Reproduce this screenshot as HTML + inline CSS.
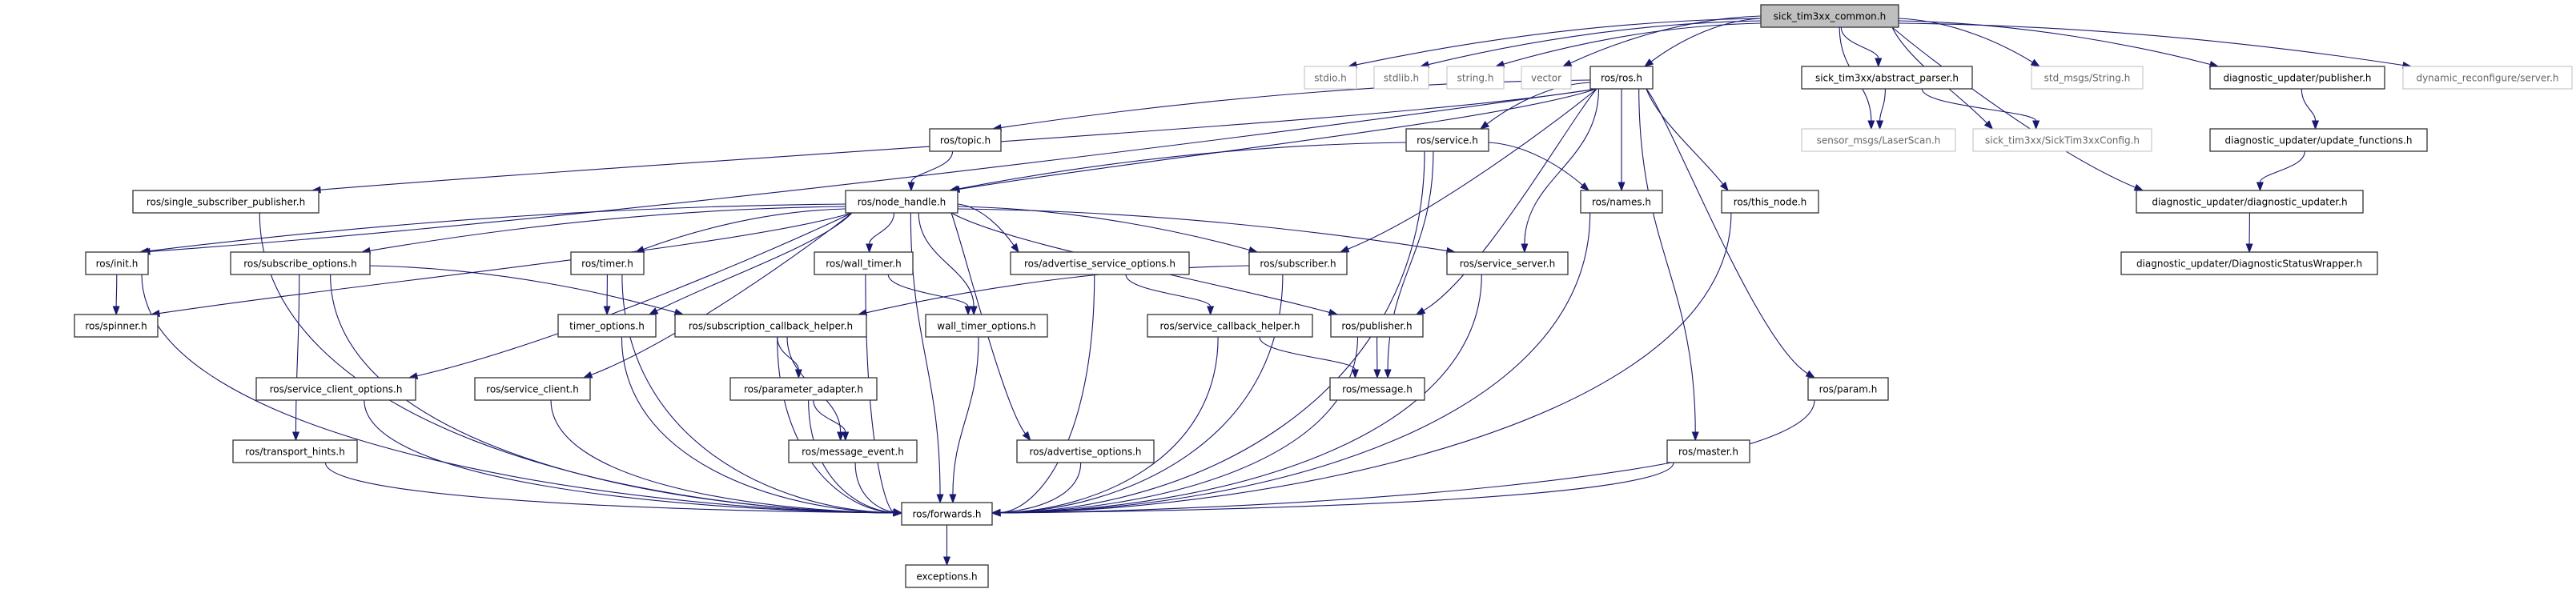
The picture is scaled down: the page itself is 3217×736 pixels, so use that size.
<!DOCTYPE html>
<html><head><meta charset="utf-8"><style>
html,body{margin:0;padding:0;background:#fff;}
svg{display:block;}
text{font-family:"DejaVu Sans","Liberation Sans",sans-serif;font-size:12px;}
</style></head><body>
<svg id="g" width="3217" height="736" xmlns="http://www.w3.org/2000/svg">
<g id="edges" fill="none" stroke="#191970" stroke-width="1.1"></g>
<g id="heads" fill="#191970" stroke="#191970"></g>
<g id="nodes">
<rect x="2199" y="6" width="172" height="28" fill="#bfbfbf" stroke="#333" stroke-width="1.3"/><text x="2285" y="24.5" text-anchor="middle">sick_tim3xx_common.h</text>
<rect x="1629" y="83" width="65" height="28" fill="#fff" stroke="#bfbfbf"/><text x="1661.5" y="101.5" text-anchor="middle" fill="#666">stdio.h</text>
<rect x="1716" y="83" width="68" height="28" fill="#fff" stroke="#bfbfbf"/><text x="1750" y="101.5" text-anchor="middle" fill="#666">stdlib.h</text>
<rect x="1807" y="83" width="71" height="28" fill="#fff" stroke="#bfbfbf"/><text x="1842.5" y="101.5" text-anchor="middle" fill="#666">string.h</text>
<rect x="1900" y="83" width="62" height="28" fill="#fff" stroke="#bfbfbf"/><text x="1931" y="101.5" text-anchor="middle" fill="#666">vector</text>
<rect x="1986" y="83" width="78" height="28" fill="#fff" stroke="#333" stroke-width="1.3"/><text x="2025" y="101.5" text-anchor="middle">ros/ros.h</text>
<rect x="2250" y="83" width="213" height="28" fill="#fff" stroke="#333" stroke-width="1.3"/><text x="2356.5" y="101.5" text-anchor="middle">sick_tim3xx/abstract_parser.h</text>
<rect x="2537" y="83" width="139" height="28" fill="#fff" stroke="#bfbfbf"/><text x="2606.5" y="101.5" text-anchor="middle" fill="#666">std_msgs/String.h</text>
<rect x="2760" y="83" width="218" height="28" fill="#fff" stroke="#333" stroke-width="1.3"/><text x="2869" y="101.5" text-anchor="middle">diagnostic_updater/publisher.h</text>
<rect x="3001" y="83" width="211" height="28" fill="#fff" stroke="#bfbfbf"/><text x="3106.5" y="101.5" text-anchor="middle" fill="#666">dynamic_reconfigure/server.h</text>
<rect x="1161" y="161" width="89" height="28" fill="#fff" stroke="#333" stroke-width="1.3"/><text x="1205.5" y="179.5" text-anchor="middle">ros/topic.h</text>
<rect x="1756" y="161" width="103" height="28" fill="#fff" stroke="#333" stroke-width="1.3"/><text x="1807.5" y="179.5" text-anchor="middle">ros/service.h</text>
<rect x="2250" y="161" width="192" height="28" fill="#fff" stroke="#bfbfbf"/><text x="2346" y="179.5" text-anchor="middle" fill="#666">sensor_msgs/LaserScan.h</text>
<rect x="2464" y="161" width="223" height="28" fill="#fff" stroke="#bfbfbf"/><text x="2575.5" y="179.5" text-anchor="middle" fill="#666">sick_tim3xx/SickTim3xxConfig.h</text>
<rect x="2760" y="161" width="271" height="28" fill="#fff" stroke="#333" stroke-width="1.3"/><text x="2895.5" y="179.5" text-anchor="middle">diagnostic_updater/update_functions.h</text>
<rect x="166" y="238" width="232" height="28" fill="#fff" stroke="#333" stroke-width="1.3"/><text x="282" y="256.5" text-anchor="middle">ros/single_subscriber_publisher.h</text>
<rect x="1056" y="238" width="140" height="28" fill="#fff" stroke="#333" stroke-width="1.3"/><text x="1126" y="256.5" text-anchor="middle">ros/node_handle.h</text>
<rect x="1974" y="238" width="102" height="28" fill="#fff" stroke="#333" stroke-width="1.3"/><text x="2025" y="256.5" text-anchor="middle">ros/names.h</text>
<rect x="2150" y="238" width="121" height="28" fill="#fff" stroke="#333" stroke-width="1.3"/><text x="2210.5" y="256.5" text-anchor="middle">ros/this_node.h</text>
<rect x="2668" y="238" width="283" height="28" fill="#fff" stroke="#333" stroke-width="1.3"/><text x="2809.5" y="256.5" text-anchor="middle">diagnostic_updater/diagnostic_updater.h</text>
<rect x="107" y="315" width="78" height="28" fill="#fff" stroke="#333" stroke-width="1.3"/><text x="146" y="333.5" text-anchor="middle">ros/init.h</text>
<rect x="288" y="315" width="174" height="28" fill="#fff" stroke="#333" stroke-width="1.3"/><text x="375" y="333.5" text-anchor="middle">ros/subscribe_options.h</text>
<rect x="713" y="315" width="91" height="28" fill="#fff" stroke="#333" stroke-width="1.3"/><text x="758.5" y="333.5" text-anchor="middle">ros/timer.h</text>
<rect x="1017" y="315" width="123" height="28" fill="#fff" stroke="#333" stroke-width="1.3"/><text x="1078.5" y="333.5" text-anchor="middle">ros/wall_timer.h</text>
<rect x="1262" y="315" width="223" height="28" fill="#fff" stroke="#333" stroke-width="1.3"/><text x="1373.5" y="333.5" text-anchor="middle">ros/advertise_service_options.h</text>
<rect x="1560" y="315" width="122" height="28" fill="#fff" stroke="#333" stroke-width="1.3"/><text x="1621" y="333.5" text-anchor="middle">ros/subscriber.h</text>
<rect x="1807" y="315" width="151" height="28" fill="#fff" stroke="#333" stroke-width="1.3"/><text x="1882.5" y="333.5" text-anchor="middle">ros/service_server.h</text>
<rect x="2649" y="315" width="320" height="28" fill="#fff" stroke="#333" stroke-width="1.3"/><text x="2809" y="333.5" text-anchor="middle">diagnostic_updater/DiagnosticStatusWrapper.h</text>
<rect x="93" y="393" width="104" height="28" fill="#fff" stroke="#333" stroke-width="1.3"/><text x="145" y="411.5" text-anchor="middle">ros/spinner.h</text>
<rect x="697" y="393" width="122" height="28" fill="#fff" stroke="#333" stroke-width="1.3"/><text x="758" y="411.5" text-anchor="middle">timer_options.h</text>
<rect x="843" y="393" width="239" height="28" fill="#fff" stroke="#333" stroke-width="1.3"/><text x="962.5" y="411.5" text-anchor="middle">ros/subscription_callback_helper.h</text>
<rect x="1156" y="393" width="152" height="28" fill="#fff" stroke="#333" stroke-width="1.3"/><text x="1232" y="411.5" text-anchor="middle">wall_timer_options.h</text>
<rect x="1433" y="393" width="206" height="28" fill="#fff" stroke="#333" stroke-width="1.3"/><text x="1536" y="411.5" text-anchor="middle">ros/service_callback_helper.h</text>
<rect x="1662" y="393" width="115" height="28" fill="#fff" stroke="#333" stroke-width="1.3"/><text x="1719.5" y="411.5" text-anchor="middle">ros/publisher.h</text>
<rect x="320" y="472" width="199" height="28" fill="#fff" stroke="#333" stroke-width="1.3"/><text x="419.5" y="490.5" text-anchor="middle">ros/service_client_options.h</text>
<rect x="593" y="472" width="144" height="28" fill="#fff" stroke="#333" stroke-width="1.3"/><text x="665" y="490.5" text-anchor="middle">ros/service_client.h</text>
<rect x="912" y="472" width="183" height="28" fill="#fff" stroke="#333" stroke-width="1.3"/><text x="1003.5" y="490.5" text-anchor="middle">ros/parameter_adapter.h</text>
<rect x="1661" y="472" width="118" height="28" fill="#fff" stroke="#333" stroke-width="1.3"/><text x="1720" y="490.5" text-anchor="middle">ros/message.h</text>
<rect x="2258" y="472" width="100" height="28" fill="#fff" stroke="#333" stroke-width="1.3"/><text x="2308" y="490.5" text-anchor="middle">ros/param.h</text>
<rect x="291" y="550" width="155" height="28" fill="#fff" stroke="#333" stroke-width="1.3"/><text x="368.5" y="568.5" text-anchor="middle">ros/transport_hints.h</text>
<rect x="985" y="550" width="160" height="28" fill="#fff" stroke="#333" stroke-width="1.3"/><text x="1065" y="568.5" text-anchor="middle">ros/message_event.h</text>
<rect x="1270" y="550" width="171" height="28" fill="#fff" stroke="#333" stroke-width="1.3"/><text x="1355.5" y="568.5" text-anchor="middle">ros/advertise_options.h</text>
<rect x="2082" y="550" width="103" height="28" fill="#fff" stroke="#333" stroke-width="1.3"/><text x="2133.5" y="568.5" text-anchor="middle">ros/master.h</text>
<rect x="1126" y="628" width="113" height="28" fill="#fff" stroke="#333" stroke-width="1.3"/><text x="1182.5" y="646.5" text-anchor="middle">ros/forwards.h</text>
<rect x="1131" y="706" width="103" height="28" fill="#fff" stroke="#333" stroke-width="1.3"/><text x="1182.5" y="724.5" text-anchor="middle">exceptions.h</text>
</g>
</svg>
<script>
var N={common:[2199,2371,6],stdio:[1629,1694,83],stdlib:[1716,1784,83],string:[1807,1878,83],vector:[1900,1962,83],ros:[1986,2064,83],abs:[2250,2463,83],stdmsg:[2537,2676,83],dpub:[2760,2978,83],dyn:[3001,3212,83],
topic:[1161,1250,161],service:[1756,1859,161],laser:[2250,2442,161],config:[2464,2687,161],upd:[2760,3031,161],
ssp:[166,398,238],nh:[1056,1196,238],names:[1974,2076,238],thisnode:[2150,2271,238],dupd:[2668,2951,238],
init:[107,185,315],subopt:[288,462,315],timer:[713,804,315],wtimer:[1017,1140,315],aso:[1262,1485,315],subscriber:[1560,1682,315],sserver:[1807,1958,315],dsw:[2649,2969,315],
spinner:[93,197,393],topt:[697,819,393],sch:[843,1082,393],wto:[1156,1308,393],servcb:[1433,1639,393],pub:[1662,1777,393],
sco:[320,519,472],sclient:[593,737,472],padapt:[912,1095,472],message:[1661,1779,472],param:[2258,2358,472],
thints:[291,446,550],mevent:[985,1145,550],aopt:[1270,1441,550],master:[2082,2185,550],fwd:[1126,1239,628],exc:[1131,1234,706]};
var E="common stdio,common stdlib,common string,common vector,common ros,common abs,common laser,common config,common stdmsg,common dpub,common dyn,common dupd,ros ssp,ros init,ros topic,ros nh,ros service,ros subscriber,ros pub,ros names,ros sserver,ros thisnode,ros master,ros param,abs laser,abs config,dpub upd,upd dupd,dupd dsw,topic nh,service nh,service names,service message,service fwd,ssp fwd,nh init,nh spinner,nh subopt,nh timer,nh topt,nh sco,nh sclient,nh wtimer,nh wto,nh aso,nh aopt,nh subscriber,nh pub,nh sserver,nh fwd,init spinner,init fwd,subopt sch,subopt thints,subopt fwd,timer topt,timer fwd,wtimer wto,wtimer fwd,aso servcb,aso fwd,subscriber sch,subscriber fwd,sserver fwd,topt fwd,sch padapt,sch mevent,sch fwd,wto fwd,servcb message,servcb fwd,pub message,pub fwd,sco fwd,sclient fwd,padapt mevent,padapt fwd,thints fwd,mevent fwd,aopt fwd,master fwd,param fwd,names fwd,thisnode fwd,fwd exc".split(",");
var ns="http://www.w3.org/2000/svg",eg=document.getElementById("edges"),hg=document.getElementById("heads");
function cl(v,a,b){return Math.max(a,Math.min(b,v));}
var sideCount={};
E.forEach(function(e){var p=e.split(" "),s=N[p[0]],t=N[p[1]];
var scx=(s[0]+s[1])/2,tcx=(t[0]+t[1])/2,sw=(s[1]-s[0])/2,tw=(t[1]-t[0])/2;
var sx,sy,ex,ey,c1x,c1y,c2x,c2y;
var wide=Math.abs(tcx-scx)>sw+tw+40;
var oneRow=(t[2]-s[2])<=80;
if(p[1]=="fwd"&&(scx<1100||scx>1265)){
 var left=scx<1100;ex=left?1126:1239;ey=641;
 sx=cl(scx+(ex-scx)*0.05,s[0]+8,s[1]-8);sy=s[2]+28;
 c1x=sx;c1y=sy+(ey-sy)*0.7;c2x=ex+(left?-1:1)*Math.min(350,Math.abs(ex-sx)*0.45);c2y=ey-3;
}else if(wide&&oneRow){
 var goLeft=tcx<scx;
 var k=p[0]+(goLeft?"L":"R");sideCount[k]=(sideCount[k]||0)+1;
 sx=goLeft?s[0]:s[1];sy=s[2]+14+((sideCount[k]*3)%12);
 ex=goLeft?t[1]-10:t[0]+10;ey=t[2];
 var dx=ex-sx,dy=ey-sy;
 c1x=sx+dx*0.4;c1y=sy+dy*0.05;c2x=ex-dx*0.25;c2y=ey-dy*0.45;
}else if(wide){
 var gl=tcx<scx;
 sx=gl?s[0]+8:s[1]-8;sy=s[2]+28;
 ex=cl(tcx+(scx-tcx)*0.3,t[0]+8,t[1]-8);ey=t[2];
 var dx3=ex-sx,dy3=ey-sy;
 c1x=sx+dx3*0.15;c1y=sy+Math.min(dy3*0.45,40);c2x=ex-dx3*0.35;c2y=ey-Math.min(dy3*0.5,45);
}else{
 sx=cl(scx+(tcx-scx)*0.2,s[0]+8,s[1]-8);sy=s[2]+28;
 ex=cl(tcx+(scx-tcx)*0.15,t[0]+8,t[1]-8);ey=t[2];
 var dy2=ey-sy;c1x=sx;c1y=sy+dy2*0.45;c2x=ex;c2y=ey-dy2*0.45;
}
var ux=ex-c2x,uy=ey-c2y,L=Math.sqrt(ux*ux+uy*uy)||1;ux/=L;uy/=L;
var bx=ex-ux*10,by=ey-uy*10;
var path=document.createElementNS(ns,"path");
path.setAttribute("d","M"+sx+","+sy+" C"+c1x+","+c1y+" "+c2x+","+c2y+" "+bx+","+by);eg.appendChild(path);
var h=document.createElementNS(ns,"polygon");
h.setAttribute("points",ex+","+ey+" "+(bx-uy*3.8)+","+(by+ux*3.8)+" "+(bx+uy*3.8)+","+(by-ux*3.8));hg.appendChild(h);});
</script>
</body></html>
